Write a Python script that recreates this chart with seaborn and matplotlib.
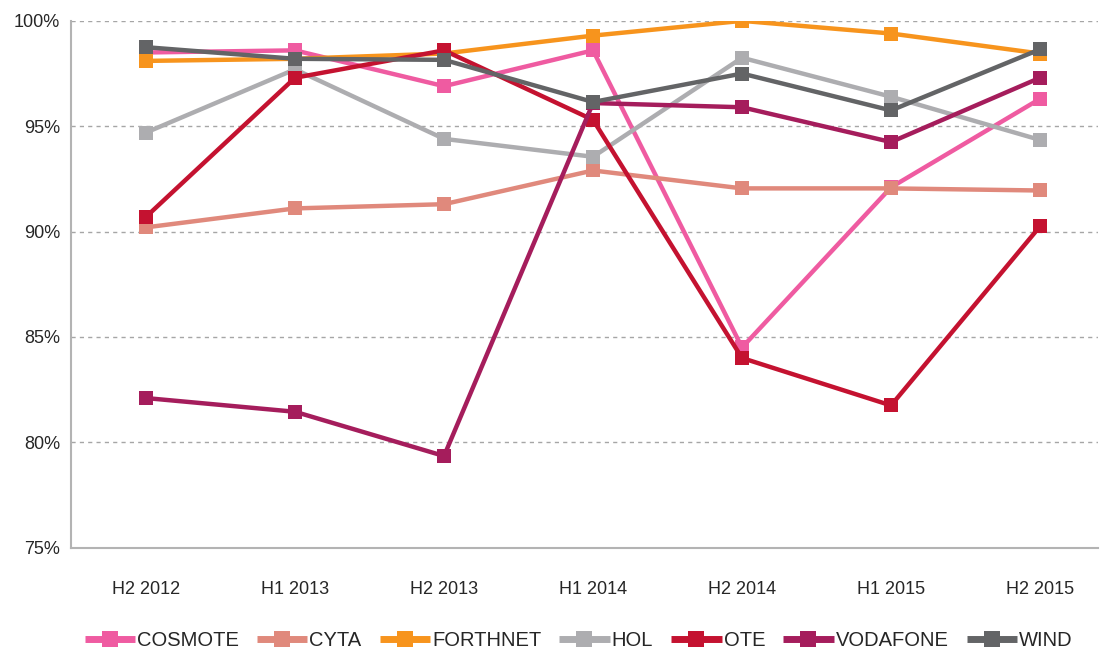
import pandas as pd
import matplotlib
matplotlib.use('Agg')
import matplotlib.pyplot as plt
import seaborn as sns
from matplotlib.ticker import FuncFormatter

# periods on the x axis
periods = ['H2 2012', 'H1 2013', 'H2 2013', 'H1 2014', 'H2 2014', 'H1 2015', 'H2 2015']

# values (percent)
cosmote = [98.5, 98.6, 96.9, 98.6, 84.5, 92.1, 96.3]
cyta = [90.2, 91.1, 91.3, 92.9, 92.05, 92.05, 91.95]
forthnet = [98.1, 98.2, 98.45, 99.3, 100.0, 99.4, 98.45]
hol = [94.7, 97.7, 94.4, 93.55, 98.25, 96.4, 94.35]
ote = [90.7, 97.3, 98.6, 95.3, 84.0, 81.75, 90.25]
vodafone = [82.1, 81.45, 79.35, 96.1, 95.9, 94.25, 97.3]
wind = [98.75, 98.2, 98.15, 96.15, 97.5, 95.75, 98.65]

operators = ['COSMOTE', 'CYTA', 'FORTHNET', 'HOL', 'OTE', 'VODAFONE', 'WIND']
colors = ['#EF5BA1', '#E0897C', '#F7941D', '#ADADB0', '#C41230', '#A51D5C', '#636466']


def main():
    series = [cosmote, cyta, forthnet, hol, ote, vodafone, wind]
    rows = []
    for name, vals in zip(operators, series):
        for p, v in zip(periods, vals):
            rows.append({'period': p, 'value': v, 'operator': name})
    df = pd.DataFrame(rows)

    sns.set_style('white')
    plt.rcParams['font.family'] = ['Liberation Sans', 'DejaVu Sans']

    fig = plt.figure(figsize=(11.02, 6.52), dpi=100)
    ax = fig.add_axes([0.0645, 0.160, 0.932, 0.808])

    sns.lineplot(data=df, x='period', y='value', hue='operator',
                 palette=dict(zip(operators, colors)), hue_order=operators,
                 marker='s', markersize=10, markeredgewidth=0,
                 linewidth=3.2, sort=False, ax=ax)

    ax.set_ylim(75, 100)
    ax.set_yticks([75, 80, 85, 90, 95, 100])
    ax.yaxis.set_major_formatter(FuncFormatter(lambda v, _: f'{v:.0f}%'))
    ax.set_xlim(-0.503, 6.39)
    ax.grid(axis='y', color='#A6A6A6', linestyle=(0, (3, 3)), linewidth=1)
    ax.set_axisbelow(True)
    ax.set_xlabel('')
    ax.set_ylabel('')

    for side in ['top', 'right']:
        ax.spines[side].set_visible(False)
    for side in ['left', 'bottom']:
        ax.spines[side].set_color('#B3B3B3')
        ax.spines[side].set_linewidth(1.5)

    ax.tick_params(axis='both', length=0, labelsize=13, colors='#262626')
    ax.tick_params(axis='x', pad=24)
    ax.tick_params(axis='y', pad=8)

    handles, labels = ax.get_legend_handles_labels()
    for h in handles:
        h.set_linewidth(5)
        h.set_solid_capstyle('butt')
        h.set_markersize(12)
    ax.legend(handles, labels, loc='center', bbox_to_anchor=(0.525, 0.017),
              bbox_transform=fig.transFigure, ncol=7, frameon=False,
              fontsize=14.5, handlelength=2.5, handletextpad=0.1,
              columnspacing=0.9, labelcolor='#262626')

    fig.savefig('out.png', dpi=100)


if __name__ == "__main__":
    main()
